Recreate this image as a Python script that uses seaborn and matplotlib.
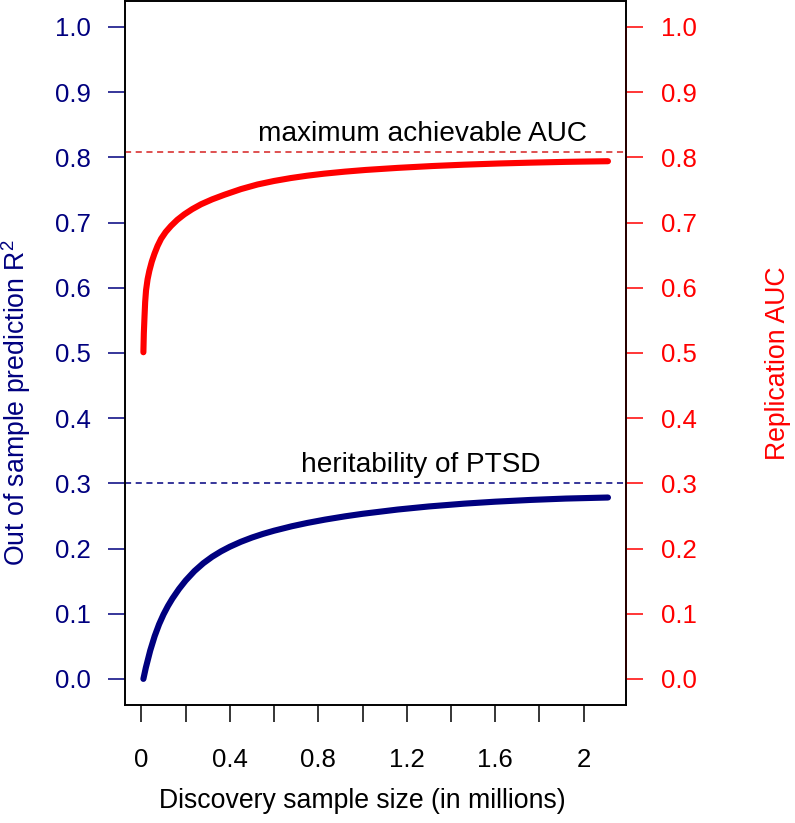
"""Out-of-sample R2 and replication AUC against discovery sample size."""

import matplotlib

matplotlib.use("Agg")
import matplotlib.pyplot as plt
import seaborn as sns

NAVY = "#00007F"
RED = "#FF0000"

# discovery sample size (millions) and curves
size_r2 = [0.009, 0.02, 0.04, 0.06, 0.08, 0.10, 0.12, 0.14, 0.17, 0.20, 0.24, 0.28, 0.32,
           0.36, 0.40, 0.45, 0.50, 0.55, 0.60, 0.68, 0.75, 0.83, 0.92, 1.0, 1.16, 1.3, 1.46,
           1.6, 1.76, 1.92, 2.11]
r2_values = [0.0, 0.0171, 0.0436, 0.0656, 0.0838, 0.0989, 0.1118, 0.1231, 0.1379, 0.1508,
             0.1654, 0.1774, 0.1873, 0.1956, 0.2027, 0.2103, 0.2168, 0.2224, 0.2273, 0.2341,
             0.2392, 0.2443, 0.2493, 0.2532, 0.2598, 0.2645, 0.2688, 0.2718, 0.2745, 0.2766,
             0.2782]

size_auc = [0.009, 0.011, 0.014, 0.017, 0.021, 0.028, 0.036, 0.047, 0.059, 0.073, 0.089, 0.11,
            0.134, 0.162, 0.194, 0.23, 0.27, 0.32, 0.375, 0.45, 0.525, 0.60, 0.676, 0.75,
            0.826, 0.92, 1.014, 1.16, 1.315, 1.46, 1.616, 1.76, 1.917, 2.01, 2.11]
auc_values = [0.501, 0.530, 0.555, 0.578, 0.596, 0.613, 0.626, 0.640, 0.652, 0.664, 0.675,
              0.6855, 0.6948, 0.704, 0.7125, 0.7205, 0.728, 0.7355, 0.7425, 0.7512, 0.7583,
              0.7637, 0.7682, 0.7718, 0.7749, 0.778, 0.7806, 0.7838, 0.7866, 0.7887, 0.7905,
              0.7918, 0.793, 0.7935, 0.794]

heritability = 0.3
max_auc = 0.8075

x_ticks = [0, 0.2, 0.4, 0.6, 0.8, 1.0, 1.2, 1.4, 1.6, 1.8, 2.0]
x_tick_labels = ["0", "", "0.4", "", "0.8", "", "1.2", "", "1.6", "", "2"]
y_ticks = [0.0, 0.1, 0.2, 0.3, 0.4, 0.5, 0.6, 0.7, 0.8, 0.9, 1.0]
y_tick_labels = [f"{v:.1f}" for v in y_ticks]


def main() -> None:
    sns.set_theme(style="white")
    plt.rcParams["font.family"] = ["Liberation Sans", "DejaVu Sans"]
    plt.rcParams["mathtext.fontset"] = "custom"
    plt.rcParams["mathtext.rm"] = "Liberation Sans"

    fig = plt.figure(figsize=(7.95, 8.23), dpi=100)
    ax = fig.add_axes([0.157, 0.1434, 0.630, 0.8556])
    ax2 = ax.twinx()

    sns.lineplot(x=size_r2, y=r2_values, ax=ax, color=NAVY, linewidth=4.4,
                 solid_capstyle="round", solid_joinstyle="round", sort=False)
    sns.lineplot(x=size_auc, y=auc_values, ax=ax2, color=RED, linewidth=4.4,
                 solid_capstyle="round", solid_joinstyle="round", sort=False)
    ax.axhline(heritability, color=NAVY, linestyle=(0, (4, 3)), linewidth=1.1)
    ax2.axhline(max_auc, color="#D62020", linestyle=(0, (4, 3)), linewidth=1.1)

    ax.text(1.265, 0.318, "heritability of PTSD", ha="center", va="baseline",
            fontsize=20.2, color="black")
    ax.text(1.271, 0.825, "maximum achievable AUC", ha="center", va="baseline",
            fontsize=20.2, color="black")

    for a in (ax, ax2):
        a.set_xlim(-0.075, 2.19)
        a.set_ylim(-0.04, 1.04)
        for side in ("left", "right", "top", "bottom"):
            a.spines[side].set_color("black")
            a.spines[side].set_linewidth(1.2)

    ax.set_xticks(x_ticks)
    ax.set_xticklabels(x_tick_labels)
    ax.tick_params(axis="x", direction="out", length=12.2, width=1.1, color="black",
                   labelcolor="black", pad=19, labelsize=18.5, bottom=True)
    ax.set_yticks(y_ticks)
    ax.set_yticklabels(y_tick_labels)
    ax.tick_params(axis="y", direction="out", length=12.2, width=1.1, color=NAVY,
                   labelcolor=NAVY, pad=12, labelsize=18.5, left=True)

    ax2.set_yticks(y_ticks)
    ax2.set_yticklabels(y_tick_labels)
    ax2.tick_params(axis="y", direction="out", length=12.2, width=1.1, color=RED,
                    labelcolor=RED, pad=13, labelsize=18.5, right=True)
    ax2.axvline(2.19, ymin=0.04 / 1.08, ymax=1.04 / 1.08, color=RED, linewidth=1.3,
                clip_on=False)

    ax.set_xlabel("Discovery sample size (in millions)", fontsize=19.2, color="black")
    ax.xaxis.set_label_coords(0.474, -0.118)
    ax.set_ylabel(r"Out of sample prediction R$^{\mathregular{2}}$", fontsize=19.2, color=NAVY)
    ax.yaxis.set_label_coords(-0.184, 0.43)
    ax2.set_ylabel("Replication AUC", fontsize=19.2, color=RED, rotation=90)
    ax2.yaxis.set_label_coords(1.279, 0.485)

    fig.savefig("out.png", dpi=100)
    plt.close(fig)


if __name__ == "__main__":
    main()
